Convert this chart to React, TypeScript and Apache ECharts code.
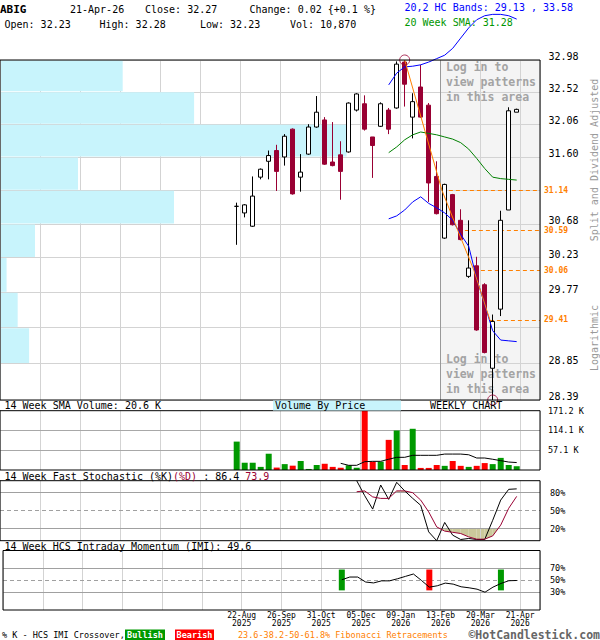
import React, { useEffect, useRef } from 'react';
import * as echarts from 'echarts';

const FONT = '"DejaVu Sans Mono", monospace';

// ---- weekly data (week of) ----
const weekDates = [
  '2025-08-18', '2025-08-25', '2025-09-01', '2025-09-08', '2025-09-15', '2025-09-22',
  '2025-09-29', '2025-10-06', '2025-10-13', '2025-10-20', '2025-10-27', '2025-11-03',
  '2025-11-10', '2025-11-17', '2025-11-24', '2025-12-01', '2025-12-08', '2025-12-15',
  '2025-12-22', '2025-12-29', '2026-01-05', '2026-01-12', '2026-01-19', '2026-01-26',
  '2026-02-02', '2026-02-09', '2026-02-16', '2026-02-23', '2026-03-02', '2026-03-09',
  '2026-03-16', '2026-03-23', '2026-03-30', '2026-04-06', '2026-04-13', '2026-04-20',
];
const opens = [30.92, 30.83, 30.65, 31.32, 31.54, 31.69, 31.60, 31.99, 31.32, 31.64, 32.02, 32.12,
  31.53, 31.63, 31.67, 32.26, 32.35, 31.88, 32.03, 32.26, 32.29, 32.95, 32.16, 32.59,
  32.33, 31.33, 30.49, 31.08, 30.73, 29.98, 30.12, 29.87, 28.79, 29.55, 30.87, 32.23];
const highs = [30.97, 30.95, 31.33, 31.44, 31.69, 31.77, 31.92, 32.00, 31.64, 32.06, 32.46, 32.16,
  32.09, 31.82, 32.37, 32.50, 32.47, 31.88, 32.37, 32.29, 32.96, 32.98, 32.50, 32.91,
  32.36, 31.54, 31.23, 31.09, 30.88, 30.73, 30.24, 29.89, 29.48, 30.86, 32.30, 32.28];
const lows = [30.40, 30.77, 30.64, 31.29, 31.29, 31.13, 31.48, 31.08, 31.12, 31.63, 32.01, 31.49,
  31.47, 31.01, 31.66, 32.24, 31.97, 31.31, 32.02, 31.92, 32.28, 32.31, 31.86, 32.15,
  30.98, 30.81, 30.48, 30.66, 30.46, 29.96, 29.27, 28.98, 28.39, 29.46, 30.87, 32.23];
const closes = [30.92, 30.94, 31.06, 31.43, 31.62, 31.40, 31.89, 31.09, 31.39, 32.02, 32.23, 31.50,
  31.48, 31.40, 32.36, 32.49, 31.99, 31.76, 32.35, 31.99, 32.92, 32.63, 32.38, 32.16,
  31.24, 30.82, 31.22, 30.67, 30.47, 30.09, 29.28, 28.99, 29.39, 30.73, 32.25, 32.27];
const volumesK = [82, 21, 21, 9, 47, 7, 17, 12.5, 26, 3, 14.5, 18,
  9, 6.5, 13.6, 6.5, 171.2, 24, 24, 87, 114, 14.5, 119, 6,
  6, 14.5, 12, 26, 12, 9, 12, 20, 17, 35, 14.5, 10.87];
const N = null;
const volSma14K = [N, N, N, N, N, N, N, N, N, N, N, N, N,
  19.3, 13.5, 13.5, 24, 25, 25, 31, 36.6, 36.6, 42.4, 42.4, 42.4, 42.4,
  46, 46, 46, 44, 34.6, 34.6, 31, 27, 23, 21.5];
const hcUpper = [N, N, N, N, N, N, N, N, N, N, N, N, N, N, N, N, N, N, N,
  32.62, 32.79, 32.88, 32.89, 32.91, 32.95, 33.00, 33.05, 33.15, 33.30, 33.45, 33.57,
  33.63, 33.65, 33.65, 33.63, 33.58];
const hcLower = [N, N, N, N, N, N, N, N, N, N, N, N, N, N, N, N, N, N, N,
  30.75, 30.79, 30.87, 30.98, 31.05, 30.96, 30.90, 30.83, 30.73, 30.54, 30.38, 29.95,
  29.61, 29.27, 29.15, 29.14, 29.13];
const sma20 = [N, N, N, N, N, N, N, N, N, N, N, N, N, N, N, N, N, N, N,
  31.66, 31.74, 31.84, 31.91, 31.95, 31.93, 31.91, 31.88, 31.85, 31.80, 31.71, 31.58,
  31.44, 31.32, 31.30, 31.29, 31.28];
const stochK = [N, N, N, N, N, N, N, N, N, N, N, N, N, N, N,
  100, 75, 52.7, 92.8, 68.9, 97.3, 83, 70.6, 59, 14.7, 0, 30.4, 9.2, 2, 3.7, 2, 2, 34, 67.7, 85.6, 86.4];
const stochD = [N, N, N, N, N, N, N, N, N, N, N, N, N, N, N,
  81.6, 83, 73, 70.5, 70.5, 83, 83, 80, 67.7, 48, 23, 16, 14, 12, 6.4, 2.5, 2.5, 8, 26, 54, 73.9];
const imi = [N, N, N, N, N, N, N, N, N, N, N, N, N,
  50.8, 55.4, 55.4, 47, 45.5, 49, 49, 52.5, 56.5, 60.5, 49.8, 38.4, 40.7, 45.2, 43.5, 39, 37.3, 35,
  29.9, 38.4, 44.6, 49.2, 49.6];
const crossWeeks = [13, 24, 33];
const crossKinds = ['bull', 'bear', 'bull'];

// price grid (logarithmic axis) and its labels
const priceTicks = [32.98, 32.52, 32.06, 31.60, 31.14, 30.68, 30.23, 29.77, 29.31, 28.85, 28.39];
const priceTickShown = [true, true, true, true, false, true, true, true, false, true, true];
// volume by price (relative, % of biggest band) for each band between price ticks
const vbpVolumePct = [35.4, 56, 100, 22.5, 50.2, 10.1, 1.9, 5.1, 8.4, 0.3];
// Fibonacci retracement levels and the week each level line starts
const fibLevels = [31.14, 30.59, 30.06, 29.41];
const fibStartWeek = [26, 28, 30, 32];

const volTicksK = [57.07, 114.13, 171.2];
const stochTicks = [80, 50, 20];
const imiTicks = [70, 50, 30];
const dateTickLabels = ['22-Aug\n2025', '26-Sep\n2025', '31-Oct\n2025', '05-Dec\n2025',
  '09-Jan\n2026', '13-Feb\n2026', '20-Mar\n2026', '21-Apr\n2026'];

// ---- styling / layout constants ----
const GREEN = '#009900';
const RED = '#ff0000';
const CANDLE_RED = '#990033';
const ORANGE = '#ff8000';
const FILL = '#cbc99b';
const GRID_MIN = -30;
const GRID_MAX = 37.5;
const DATA_SHIFT = 0.4125;
const SHADE_FROM = 25;
const FIB_SHIFT = 0.35;
const VBP_MAX = 155.8;
const CROSS_LO = 33;
const CROSS_HI = 68;
const PRICE_LABEL_X = 548.5;
const PRICE_LABEL_RAISE = 3.3;

const txt = (text: string, x: number, y: number, o: any = {}) => ({
  type: 'text', x, y, z: o.z ?? 50, silent: true, rotation: o.rot ?? 0,
  style: {
    text, fontFamily: FONT, fontSize: o.size ?? 10, fontWeight: o.bold ? 'bold' : 'normal',
    fill: o.color ?? '#000', align: o.align ?? 'left', verticalAlign: 'middle', lineHeight: o.lh ?? undefined,
  },
});
const rect = (x: number, y: number, w: number, h: number, fill: string) => ({ type: 'rect', z: 49, silent: true, shape: { x, y, width: w, height: h }, style: { fill } });

function staticGraphic(): any[] {
  return [
    txt('ABIG', 0, 9.5, { bold: true, size: 11 }),
    txt('21-Apr-26', 70, 9.5),
    txt('Close: 32.27', 145, 9.5),
    txt('Change: 0.02 {+0.1 %}', 249.5, 9.5),
    txt('Open: 32.23', 4.5, 24.5),
    txt('High: 32.28', 99.5, 24.5),
    txt('Low: 32.23', 200, 24.5),
    txt('Vol: 10,870', 290, 24.5),
    txt('20,2 HC Bands: 29.13 , 33.58', 404.5, 7, { color: '#0000ff' }),
    txt('20 Week SMA: 31.28', 404.5, 22.5, { color: '#009600' }),
    txt('Log in to\nview patterns\nin this area', 446, 82, { bold: true, size: 11.5, color: '#a3a3a3', lh: 15, z: 5 }),
    txt('Log in to\nview patterns\nin this area', 446, 374, { bold: true, size: 11.5, color: '#a3a3a3', lh: 15, z: 5 }),
    txt('Split and Dividend Adjusted', 594, 160, { color: '#999', align: 'center', rot: Math.PI / 2 }),
    txt('Logarithmic', 594, 338, { color: '#999', align: 'center', rot: Math.PI / 2 }),
    txt('14 Week SMA Volume: 20.6 K', 4.5, 405.5),
    rect(273, 400.6, 128, 9.8, '#c8f4fc'),
    txt('Volume By Price', 275, 405.5),
    txt('WEEKLY CHART', 430, 405.5),
    {
      type: 'text', x: 4.5, y: 476, z: 50, silent: true,
      style: {
        text: '{a|14 Week Fast Stochastic (%K)}{b|(%D)}{a| : 86.4 }{b|73.9}',
        verticalAlign: 'middle', fontFamily: FONT, fontSize: 10,
        rich: { a: { fill: '#000', fontFamily: FONT, fontSize: 10 }, b: { fill: CANDLE_RED, fontFamily: FONT, fontSize: 10 } },
      },
    },
    txt('14 Week HCS Intraday Momentum (IMI): 49.6', 4.5, 546),
    txt('% K - HCS IMI Crossover,', 2, 635, { size: 8.5 }),
    rect(125, 629.5, 40, 10.5, GREEN),
    txt('Bullish', 145, 635, { size: 8.5, bold: true, color: '#fff', align: 'center' }),
    rect(175, 629.5, 39, 10.5, RED),
    txt('Bearish', 194.5, 635, { size: 8.5, bold: true, color: '#fff', align: 'center' }),
    txt('23.6-38.2-50-61.8% Fibonacci Retracements', 238, 635, { size: 8.5, color: ORANGE }),
    txt('\u00a9HotCandlestick.com', 600, 634.5, { size: 11.5, bold: true, color: '#666', align: 'right' }),
  ];
}

function buildOption() {
  const idx = weekDates.map((_, i) => i);
  const pair = (arr: (number | null)[]) => arr.map((v, i) => [i, v]);
  const candleData = idx.map((i) => [i, opens[i], closes[i], lows[i], highs[i]]);
  const pMax = Math.max(...highs);
  const pMin = Math.min(...lows);
  const iMax = highs.indexOf(pMax);
  const iMin = lows.indexOf(pMin);
  const DATA_MIN = GRID_MIN + DATA_SHIFT;
  const DATA_MAX = GRID_MAX + DATA_SHIFT;

  const grids = [
    { left: 0, top: 60, width: 540, height: 340 },
    { left: 0, top: 410.7, width: 540, height: 59.3 },
    { left: 0, top: 480.7, width: 540, height: 60 },
    { left: 0, top: 550.5, width: 540, height: 59.5 },
  ].map((g) => ({ ...g, show: true, borderColor: '#000', borderWidth: 1, backgroundColor: 'transparent', z: 20, containLabel: false }));

  const dataAxis = (gridIndex: number) => ({ type: 'value', gridIndex, position: 'bottom', min: DATA_MIN, max: DATA_MAX, show: false });
  const gridAxis = (gridIndex: number, labels = false) => ({
    type: 'value', gridIndex, position: 'bottom', min: GRID_MIN, max: GRID_MAX, interval: 5, z: 2,
    axisLine: { show: false }, axisTick: { show: false },
    axisLabel: labels ? {
      show: true, fontSize: 8, lineHeight: 7.5, margin: 2, color: '#000', fontFamily: FONT,
      formatter: (v: number) => {
        const k = Math.round(v / 5);
        return Math.abs(v - k * 5) < 1e-6 && k >= 0 && k < dateTickLabels.length ? dateTickLabels[k] : '';
      },
    } : { show: false },
    splitLine: { show: true, lineStyle: { color: '#d3d3d3', width: 1 } },
  });

  const xAxis = [
    dataAxis(0), gridAxis(0), { type: 'value', gridIndex: 0, position: 'bottom', min: 0, max: VBP_MAX, show: false },
    dataAxis(1), gridAxis(1),
    dataAxis(2), gridAxis(2),
    dataAxis(3), gridAxis(3, true),
  ];
  const yAxis = [
    { type: 'log', gridIndex: 0, min: pMin, max: pMax, show: false },
    { type: 'value', gridIndex: 1, min: 0, max: Math.max(...volumesK), show: false },
    { type: 'value', gridIndex: 2, min: 0, max: 100, show: false },
    { type: 'value', gridIndex: 3, min: 0, max: 100, show: false },
  ];

  const hLine = (y: number, label: string | null, color: string, dashed: boolean, fontSize: number, distance: number, hideLine = false) => ({
    yAxis: y,
    lineStyle: { color: hideLine ? 'rgba(0,0,0,0)' : color, width: 1, type: dashed ? [4, 3] : 'solid' },
    label: label == null ? { show: false } : {
      show: true, formatter: label, position: 'end', distance, color: '#000', fontSize, fontFamily: FONT,
    },
  });

  const mainGridLines = priceTicks.map((p) => hLine(p, null, '#d3d3d3', false, 10, 8));
  const vbpData = vbpVolumePct.map((v, i) => [v, priceTicks[i], priceTicks[i + 1]]);

  const stochOb = 80, stochOs = 20;
  const fibPath: any[] = [[iMax, pMax], ...fibLevels.map((lv, i) => [fibStartWeek[i] - FIB_SHIFT, lv])];

  const fillPieces: number[][] = [];
  for (let i = 0; i + 1 < stochD.length; i++) {
    const a = stochD[i], b = stochD[i + 1];
    if (a == null || b == null) continue;
    fillPieces.push([i, a, b, stochOb, 1]);
    fillPieces.push([i, a, b, stochOs, -1]);
  }

  const series: any[] = [
    {
      type: 'line', xAxisIndex: 1, yAxisIndex: 0, data: [[GRID_MIN, priceTicks[5]]], showSymbol: false,
      lineStyle: { opacity: 0 }, silent: true, z: 1,
      markArea: { silent: true, z: 1, itemStyle: { color: '#f4f4f4' }, data: [[{ xAxis: SHADE_FROM }, { xAxis: GRID_MAX }]] },
      markLine: {
        silent: true, z: 2, symbol: ['none', 'none'],
        data: [...mainGridLines, { xAxis: SHADE_FROM, lineStyle: { color: '#999', width: 1, type: 'solid' }, label: { show: false } }],
      },
    },
    {
      type: 'custom', xAxisIndex: 2, yAxisIndex: 0, z: 3, silent: true, data: vbpData,
      renderItem: (_p: any, api: any) => {
        const a = api.coord([0, api.value(1)]);
        const b = api.coord([api.value(0), api.value(2)]);
        return { type: 'rect', shape: { x: a[0] + 1, y: a[1] + 0.5, width: b[0] - a[0] - 1, height: b[1] - a[1] - 1 }, style: { fill: '#c8f4fc' } };
      },
    },
    {
      type: 'candlestick', xAxisIndex: 0, yAxisIndex: 0, z: 10, barWidth: 5,
      dimensions: ['week', 'open', 'close', 'lowest', 'highest'],
      encode: { x: 'week', y: ['open', 'close', 'lowest', 'highest'] },
      itemStyle: { color: '#ffffff', color0: CANDLE_RED, borderColor: '#000', borderColor0: CANDLE_RED, borderWidth: 1 },
      data: candleData,
    },
    { type: 'line', xAxisIndex: 0, yAxisIndex: 0, z: 11, clip: false, showSymbol: false, data: pair(hcUpper), lineStyle: { color: '#0000ff', width: 1 } },
    { type: 'line', xAxisIndex: 0, yAxisIndex: 0, z: 11, clip: false, showSymbol: false, data: pair(hcLower), lineStyle: { color: '#0000ff', width: 1 } },
    { type: 'line', xAxisIndex: 0, yAxisIndex: 0, z: 11, showSymbol: false, data: pair(sma20), lineStyle: { color: '#008000', width: 1 } },
    {
      type: 'line', xAxisIndex: 0, yAxisIndex: 0, z: 11, showSymbol: false, data: fibPath, lineStyle: { color: ORANGE, width: 1 },
      markLine: {
        silent: true, z: 5, symbol: ['none', 'none'],
        lineStyle: { color: ORANGE, width: 1, type: [4, 3] },
        label: { show: true, position: 'end', distance: 4, color: ORANGE, fontSize: 8, lineHeight: 8, fontWeight: 'bold', fontFamily: FONT },
        data: fibLevels.map((lv, i) => [
          { coord: [fibStartWeek[i] - FIB_SHIFT, lv], label: { formatter: lv.toFixed(2) } },
          { coord: [DATA_MAX, lv] },
        ]),
      },
    },
    {
      type: 'scatter', xAxisIndex: 0, yAxisIndex: 0, z: 12, clip: false, symbol: 'circle', symbolSize: 10,
      itemStyle: { color: 'rgba(0,0,0,0)', borderColor: CANDLE_RED, borderWidth: 1 },
      data: [[iMax, pMax], [iMin, pMin]],
    },
    {
      type: 'bar', xAxisIndex: 3, yAxisIndex: 1, z: 3, barWidth: 6,
      data: volumesK.map((v, i) => ({ value: [i, v], itemStyle: { color: closes[i] >= opens[i] ? GREEN : RED } })),
      markLine: {
        silent: true, z: 2, symbol: ['none', 'none'],
        data: volTicksK.map((t, i) => hLine(t, t.toFixed(1) + ' K', '#a8a8a8', false, 8.5, 8, i === volTicksK.length - 1)),
      },
    },
    { type: 'line', xAxisIndex: 3, yAxisIndex: 1, z: 4, showSymbol: false, data: pair(volSma14K), lineStyle: { color: '#000', width: 1 } },
    {
      type: 'custom', xAxisIndex: 5, yAxisIndex: 2, z: 1, silent: true, data: fillPieces,
      renderItem: (_p: any, api: any) => {
        const i = api.value(0), a = api.value(1), b = api.value(2), th = api.value(3), dir = api.value(4);
        const da = (a - th) * dir, db = (b - th) * dir;
        if (da <= 0 && db <= 0) return null;
        const pts: number[][] = [];
        if (da > 0 && db > 0) {
          pts.push([i, th], [i, a], [i + 1, b], [i + 1, th]);
        } else if (da > 0) {
          const t = da / (da - db);
          pts.push([i, th], [i, a], [i + t, th]);
        } else {
          const t = -da / (db - da);
          pts.push([i + t, th], [i + 1, b], [i + 1, th]);
        }
        return { type: 'polygon', shape: { points: pts.map((p) => api.coord(p)) }, style: { fill: FILL } };
      },
    },
    {
      type: 'line', xAxisIndex: 5, yAxisIndex: 2, z: 4, showSymbol: false, data: pair(stochK), lineStyle: { color: '#000', width: 1 },
      markLine: {
        silent: true, z: 2, symbol: ['none', 'none'],
        data: stochTicks.map((t) => hLine(t, t + '%', '#a0a0a0', t === 50, 8.5, 10)),
      },
    },
    { type: 'line', xAxisIndex: 5, yAxisIndex: 2, z: 4, showSymbol: false, data: pair(stochD), lineStyle: { color: CANDLE_RED, width: 1 } },
    {
      type: 'line', xAxisIndex: 7, yAxisIndex: 3, z: 4, showSymbol: false, data: pair(imi), lineStyle: { color: '#000', width: 1 },
      markLine: {
        silent: true, z: 2, symbol: ['none', 'none'],
        data: imiTicks.map((t) => hLine(t, t + '%', '#a0a0a0', t === 50, 8.5, 10)),
      },
    },
    {
      type: 'custom', xAxisIndex: 7, yAxisIndex: 3, z: 3, silent: true,
      data: crossWeeks.map((w, i) => [w, CROSS_LO, CROSS_HI, crossKinds[i] === 'bull' ? 1 : 0]),
      renderItem: (_p: any, api: any) => {
        const top = api.coord([api.value(0), api.value(2)]);
        const bot = api.coord([api.value(0), api.value(1)]);
        return { type: 'rect', shape: { x: top[0] - 3, y: top[1], width: 6, height: bot[1] - top[1] }, style: { fill: api.value(3) ? GREEN : RED } };
      },
    },
  ];

  return {
    animation: false,
    backgroundColor: '#fff',
    textStyle: { fontFamily: FONT },
    grid: grids,
    xAxis,
    yAxis,
    series,
    graphic: staticGraphic(),
  };
}

export default function App() {
  const ref = useRef<HTMLDivElement>(null);
  useEffect(() => {
    if (!ref.current) return;
    const chart = echarts.init(ref.current, null, { renderer: 'svg' });
    chart.setOption(buildOption() as any);
    // price tick labels, placed through the log axis, slightly above their grid lines
    const priceLabels = priceTicks
      .map((p, i) => ({ p, i }))
      .filter(({ i }) => priceTickShown[i])
      .map(({ p }) => {
        const y = chart.convertToPixel({ yAxisIndex: 0 } as any, p) as unknown as number;
        return txt(p.toFixed(2), PRICE_LABEL_X, y - PRICE_LABEL_RAISE, { size: 10 });
      });
    chart.setOption({ graphic: [...staticGraphic(), ...priceLabels] } as any);
    return () => chart.dispose();
  }, []);
  return (
    <div
      ref={ref}
      style={{ position: 'absolute', left: 0, top: 0, width: 600, height: 640, background: '#fff' }}
    />
  );
}
